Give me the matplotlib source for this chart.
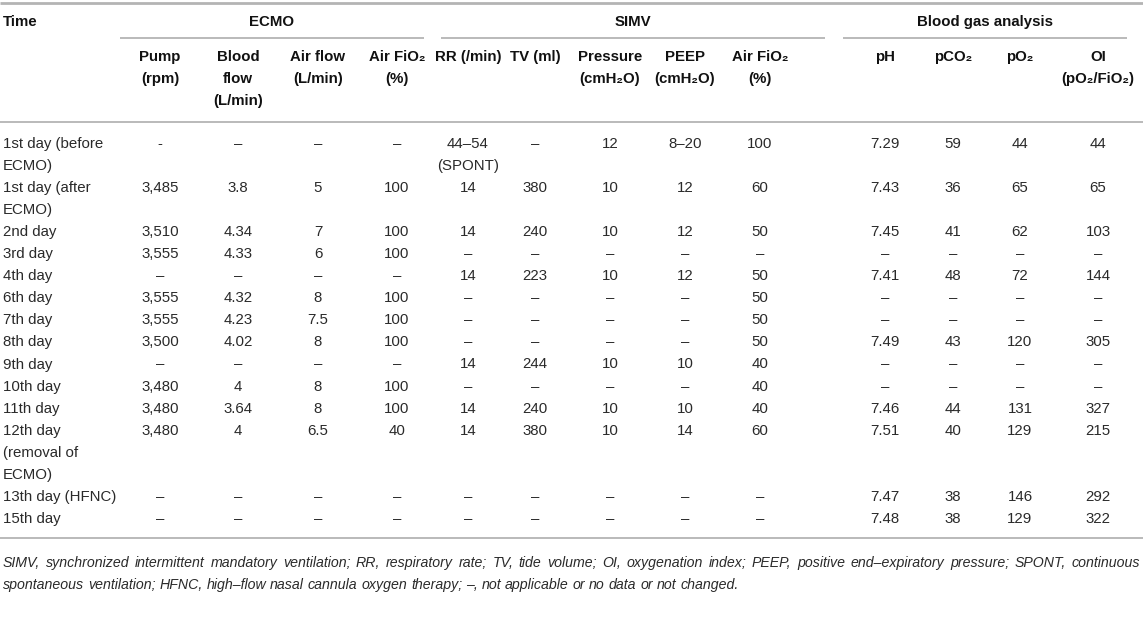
import matplotlib
matplotlib.use("Agg")
import matplotlib.pyplot as plt

FAM = ['Liberation Sans', 'DejaVu Sans']
plt.rcParams['font.family'] = FAM

# ---------------- data ----------------
time_labels = ["1st day (before\nECMO)", "1st day (after\nECMO)", "2nd day", "3rd day",
               "4th day", "6th day", "7th day", "8th day", "9th day", "10th day",
               "11th day", "12th day\n(removal of\nECMO)", "13th day (HFNC)", "15th day"]
D = "–"
pump = ["-", "3,485", "3,510", "3,555", D, "3,555", "3,555", "3,500", D, "3,480", "3,480", "3,480", D, D]
blood_flow = [D, "3.8", "4.34", "4.33", D, "4.32", "4.23", "4.02", D, "4", "3.64", "4", D, D]
air_flow = [D, "5", "7", "6", D, "8", "7.5", "8", D, "8", "8", "6.5", D, D]
ecmo_fio2 = [D, "100", "100", "100", D, "100", "100", "100", D, "100", "100", "40", D, D]
rr = ["44–54\n(SPONT)", "14", "14", D, "14", D, D, D, "14", D, "14", "14", D, D]
tv = [D, "380", "240", D, "223", D, D, D, "244", D, "240", "380", D, D]
pressure = ["12", "10", "10", D, "10", D, D, D, "10", D, "10", "10", D, D]
peep = ["8–20", "12", "12", D, "12", D, D, D, "10", D, "10", "14", D, D]
simv_fio2 = ["100", "60", "50", D, "50", "50", "50", "50", "40", "40", "40", "60", D, D]
ph = ["7.29", "7.43", "7.45", D, "7.41", D, D, "7.49", D, D, "7.46", "7.51", "7.47", "7.48"]
pco2 = ["59", "36", "41", D, "48", D, D, "43", D, D, "44", "40", "38", "38"]
po2 = ["44", "65", "62", D, "72", D, D, "120", D, D, "131", "129", "146", "129"]
oi = ["44", "65", "103", D, "144", D, D, "305", D, D, "327", "215", "292", "322"]

col_headers = ["Pump\n(rpm)", "Blood\nflow\n(L/min)", "Air flow\n(L/min)", "Air FiO₂\n(%)",
               "RR (/min)", "TV (ml)", "Pressure\n(cmH₂O)", "PEEP\n(cmH₂O)", "Air FiO₂\n(%)",
               "pH", "pCO₂", "pO₂", "OI\n(pO₂/FiO₂)"]
columns = [pump, blood_flow, air_flow, ecmo_fio2, rr, tv, pressure, peep, simv_fio2,
           ph, pco2, po2, oi]
groups = ["ECMO", "SIMV", "Blood gas analysis"]

footnote_lines = [
    "SIMV, synchronized intermittent mandatory ventilation; RR, respiratory rate; TV, tide volume; "
    "OI, oxygenation index; PEEP, positive end–expiratory pressure; SPONT, continuous",
    "spontaneous ventilation; HFNC, high–flow nasal cannula oxygen therapy; –, not applicable "
    "or no data or not changed.",
]

# ---------------- layout ----------------
W, H = 1143, 625
fig = plt.figure(figsize=(W / 100, H / 100), dpi=100)
ax = fig.add_axes([0, 0, 1, 1])
ax.set_xlim(0, W)
ax.set_ylim(H, 0)
ax.axis('off')

col_x = [160, 238, 318, 397, 468, 535, 610, 685, 760, 885, 953, 1020, 1098]
group_span = [(120, 424), (441, 825), (843, 1127)]
FS = 10.8
LH = 22.05
TXT = '#2a2a2a'
LINE = '#b4b4b4'

# rules
ax.plot([0, W], [3, 3], color=LINE, lw=2.0, solid_capstyle='butt')
ax.plot([0, W], [122, 122], color=LINE, lw=1.3, solid_capstyle='butt')
ax.plot([0, W], [538, 538], color=LINE, lw=1.3, solid_capstyle='butt')
for (a, b) in group_span:
    ax.plot([a, b], [38, 38], color=LINE, lw=1.3, solid_capstyle='butt')

# header
ax.text(3, 22, "Time", ha='left', va='center', fontsize=FS, fontweight='bold', color='#111')
for g, (a, b) in zip(groups, group_span):
    ax.text((a + b) / 2, 22, g, ha='center', va='center', fontsize=FS, fontweight='bold', color='#111')
for hdr, x in zip(col_headers, col_x):
    for k, line in enumerate(hdr.split("\n")):
        ax.text(x, 57 + k * 22, line, ha='center', va='center', fontsize=FS,
                fontweight='bold', color='#111')

# body
k = 0
for i, lab in enumerate(time_labels):
    y0 = 144 + k * LH
    lines = lab.split("\n")
    for j, l in enumerate(lines):
        ax.text(3, y0 + j * LH, l, ha='left', va='center', fontsize=FS, color=TXT)
    nmax = len(lines)
    for col, x in zip(columns, col_x):
        vl = col[i].split("\n")
        nmax = max(nmax, len(vl))
        for j, v in enumerate(vl):
            ax.text(x, y0 + j * LH, v, ha='center', va='center', fontsize=FS, color=TXT)
    k += nmax

# footnote, first line justified
fig.canvas.draw()
r = fig.canvas.get_renderer()
FFS = 10.2
x0, x1 = 3, 1140


def wwidth(s):
    t = ax.text(0, 0, s, fontsize=FFS, style='italic')
    bb = t.get_window_extent(renderer=r)
    t.remove()
    return bb.width


space = wwidth("a b") - wwidth("ab")
for li, txt in enumerate(footnote_lines):
    y = 563 + li * 22
    words = txt.split(" ")
    widths = [wwidth(w) for w in words]
    if li == 0:
        gap = ((x1 - x0) - sum(widths)) / (len(words) - 1)
    else:
        gap = space
    x = x0
    for w, wd in zip(words, widths):
        ax.text(x, y, w, ha='left', va='center', fontsize=FFS, style='italic', color=TXT)
        x += wd + gap

fig.savefig("out.png", dpi=100)
